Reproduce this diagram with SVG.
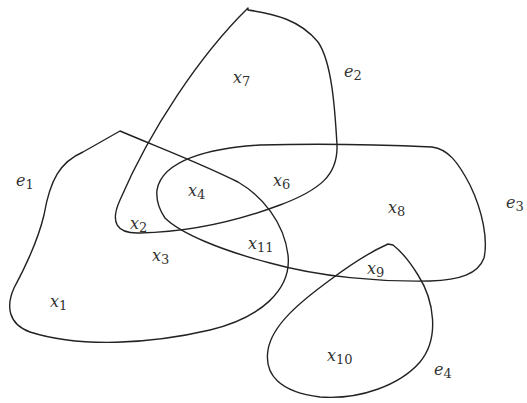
<svg xmlns="http://www.w3.org/2000/svg" width="527" height="403" viewBox="0 0 527 403">
<style>
.c{fill:none;stroke:#222;stroke-width:1.4;stroke-linejoin:round}
text{font-family:"DejaVu Serif","Liberation Serif",serif;font-size:16px;font-style:italic;fill:#333}
.s{font-size:13px;font-style:normal}
</style>
<rect width="527" height="403" fill="#fff"/>
<g id="edges">
<path id="e1" class="c" d="M120,131 C160,148 200,163 238,182 C262,196 284,222 288,255 C292,290 260,318 210,330 C150,344 80,348 30,332 C8,324 6,306 14,288 C28,262 38,240 44,215 C50,180 60,162 83,152 Z"/>
<path id="e2" class="c" d="M248,8 L248,10 C275,14 300,20 318,42 C332,62 335,110 337,145 C338,175 320,190 280,205 C240,220 190,232 140,233 C116,234 110,222 120,200 C150,130 200,55 248,8 Z"/>
<path id="e3" class="c" d="M157,190 C162,160 210,148 260,145 C330,143 390,145 432,147 C448,149 458,162 470,185 C483,212 488,240 484,258 C478,274 460,280 430,281 C380,282 320,277 270,263 C220,250 180,233 165,218 C158,208 156,200 157,190 Z"/>
<path id="e4" class="c" d="M388,244 C370,252 350,265 330,280 C300,302 272,325 268,350 C264,375 280,392 320,397 C360,400 400,385 420,362 C440,338 434,300 418,275 C410,262 402,252 393,245 Z"/>
</g>
<g id="labels">
<text x="16" y="186">e<tspan class="s" dy="3">1</tspan></text>
<text x="344" y="77">e<tspan class="s" dy="3">2</tspan></text>
<text x="506" y="208">e<tspan class="s" dy="3">3</tspan></text>
<text x="434" y="375">e<tspan class="s" dy="3">4</tspan></text>
<text x="233" y="83">x<tspan class="s" dy="3">7</tspan></text>
<text x="188" y="196">x<tspan class="s" dy="3">4</tspan></text>
<text x="273" y="186">x<tspan class="s" dy="3">6</tspan></text>
<text x="130" y="229">x<tspan class="s" dy="3">2</tspan></text>
<text x="152" y="261">x<tspan class="s" dy="3">3</tspan></text>
<text x="248" y="249">x<tspan class="s" dy="3">11</tspan></text>
<text x="388" y="213">x<tspan class="s" dy="3">8</tspan></text>
<text x="367" y="274">x<tspan class="s" dy="3">9</tspan></text>
<text x="50" y="307">x<tspan class="s" dy="3">1</tspan></text>
<text x="327" y="361">x<tspan class="s" dy="3">10</tspan></text>
</g>
</svg>
